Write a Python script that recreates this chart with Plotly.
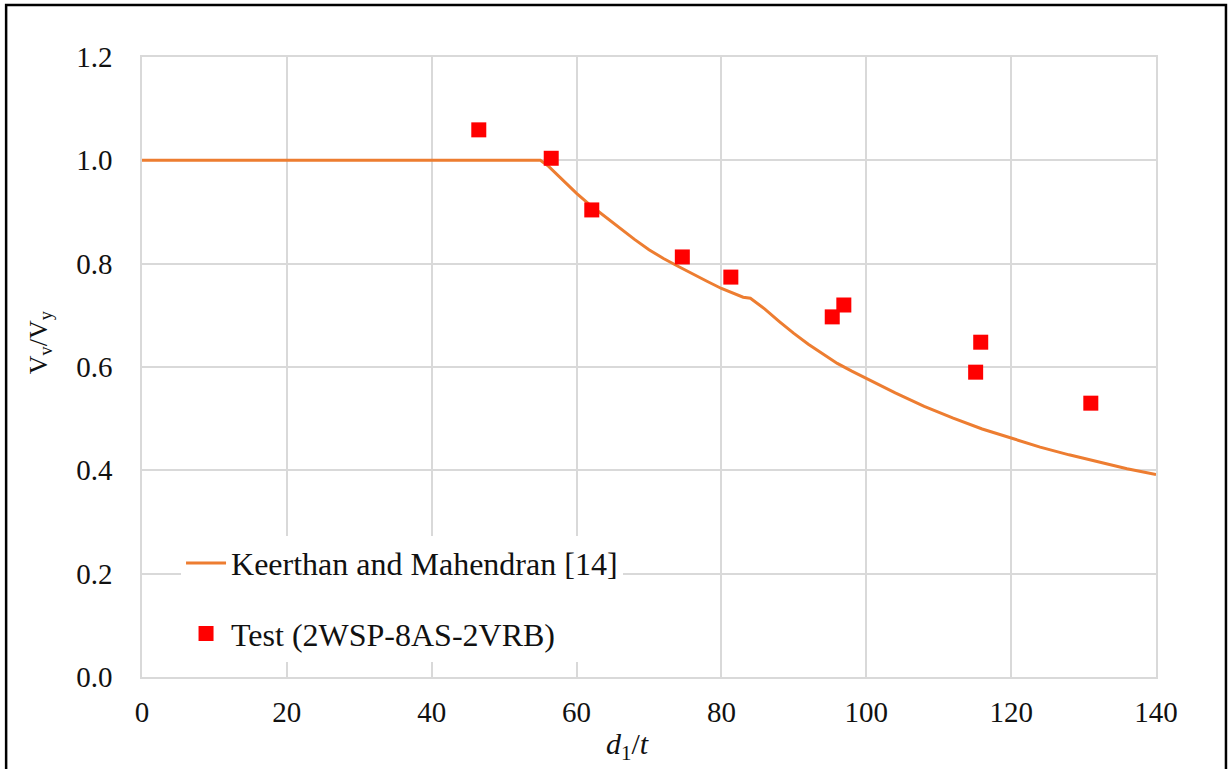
import plotly.graph_objects as go

# Keerthan and Mahendran [14] curve
curve_x = [0, 55, 56, 58, 60, 62, 64, 66, 68, 70, 72, 74, 76, 78, 80, 82, 83, 84,
           86, 88, 90, 92, 94, 96, 98, 100, 104, 108, 112, 116, 120, 124, 128, 132, 136, 140]
curve_y = [1.0, 1.0, 0.99, 0.962, 0.936, 0.912, 0.89, 0.868, 0.847, 0.827, 0.81, 0.795,
           0.78, 0.766, 0.752, 0.740, 0.735, 0.733, 0.712, 0.688, 0.665, 0.644, 0.625, 0.607,
           0.592, 0.578, 0.550, 0.524, 0.501, 0.480, 0.462, 0.445, 0.430, 0.416, 0.403, 0.392]

# Test (2WSP-8AS-2VRB)
test_x = [46.5, 56.5, 62.1, 74.6, 81.3, 95.3, 96.9, 115.1, 115.8, 131.0]
test_y = [1.059, 1.004, 0.904, 0.813, 0.774, 0.697, 0.720, 0.590, 0.648, 0.530]

x_ticks = [0, 20, 40, 60, 80, 100, 120, 140]
y_ticks = [0.0, 0.2, 0.4, 0.6, 0.8, 1.0, 1.2]

FONT = "Liberation Serif, Times New Roman, serif"
GRID = "#d9d9d9"
TXT = "#111111"

fig = go.Figure()
fig.add_trace(go.Scatter(
    x=curve_x, y=curve_y, mode="lines", name="Keerthan and Mahendran [14]",
    line=dict(color="#ED7D31", width=3), legendgroup="a"))
fig.add_trace(go.Scatter(
    x=test_x, y=test_y, mode="markers", name="Test (2WSP-8AS-2VRB)",
    marker=dict(color="#FF0000", symbol="square", size=15), legendgroup="b"))

fig.update_layout(
    width=1229, height=769,
    margin=dict(l=142, r=73, t=57, b=92),
    paper_bgcolor="white", plot_bgcolor="white",
    font=dict(family=FONT, size=29, color=TXT),
    showlegend=True,
    legend=dict(x=0.0385, y=0.228, xanchor="left", yanchor="top",
                bgcolor="white", font=dict(family=FONT, size=32, color=TXT),
                tracegroupgap=26, itemwidth=40),
    xaxis=dict(range=[0, 140], tickvals=x_ticks, ticktext=[str(v) for v in x_ticks],
               showgrid=True, gridcolor=GRID, gridwidth=1.5,
               showline=True, linecolor=GRID, linewidth=1.5, mirror=True,
               zeroline=False, ticks="", ticklabelstandoff=8),
    yaxis=dict(range=[0, 1.2], tickvals=y_ticks, ticktext=[f"{v:.1f}" for v in y_ticks],
               showgrid=True, gridcolor=GRID, gridwidth=1.5,
               showline=True, linecolor=GRID, linewidth=1.5, mirror=True,
               zeroline=False, ticks="", ticklabelstandoff=22),
)

fig.add_annotation(text="<i>d</i><sub>1</sub>/<i>t</i>", xref="paper", yref="paper",
                   x=0.479, y=-0.112, showarrow=False, xanchor="center", yanchor="middle",
                   font=dict(family=FONT, size=30, color=TXT))
fig.add_annotation(text="V<sub>v</sub>/V<sub>y</sub>", xref="paper", yref="paper",
                   x=-0.1006, y=0.54, showarrow=False, textangle=-90,
                   xanchor="center", yanchor="middle",
                   font=dict(family=FONT, size=26, color=TXT))

# outer frame
fig.add_shape(type="rect", xref="paper", yref="paper",
              x0=-0.134, x1=1.069, y0=-0.2, y1=1.084,
              line=dict(color="black", width=2.5), layer="above")

fig.write_html("out.html")
